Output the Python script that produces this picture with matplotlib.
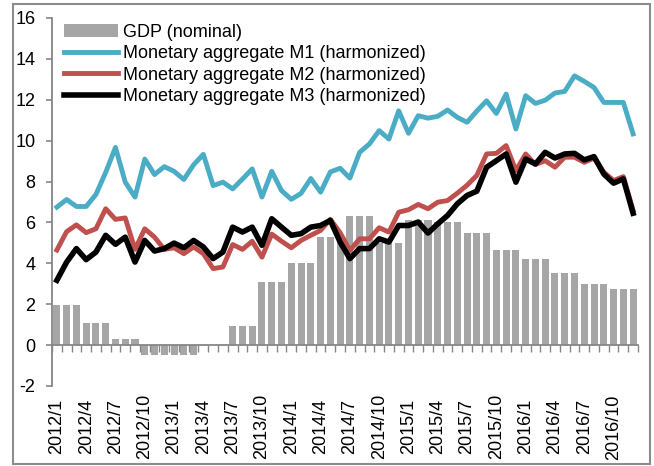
import numpy as np
import matplotlib.pyplot as plt
from matplotlib.patches import Rectangle

# miesiace 2012/1 .. 2016/12
months = []
for year in range(2012, 2017):
    for m in range(1, 13):
        months.append("{0}/{1}".format(year, m))

# PKB kwartalnie (powtorzone na 3 miesiace)
gdp_quarterly = [1.95, 1.1, 0.28, -0.5, -0.5, 0.0, 0.92, 3.1, 4.0, 5.3,
                 6.3, 5.0, 6.1, 6.0, 5.5, 4.65, 4.2, 3.55, 3.0, 2.72]

m1 = [6.75, 7.12, 6.78, 6.78, 7.37, 8.45, 9.67, 7.97, 7.24, 9.1,
      8.34, 8.73, 8.5, 8.1, 8.82, 9.33, 7.8, 7.97, 7.64, 8.12,
      8.62, 7.24, 8.5, 7.56, 7.13, 7.42, 8.15, 7.48, 8.47, 8.65,
      8.17, 9.43, 9.84, 10.49, 10.08, 11.46, 10.36, 11.22, 11.1, 11.19,
      11.5, 11.14, 10.9, 11.45, 11.95, 11.33, 12.28, 10.57, 12.2, 11.82,
      11.98, 12.33, 12.41, 13.17, 12.9, 12.6, 11.87, 11.87, 11.87, 10.33]

m2 = [4.65, 5.55, 5.88, 5.5, 5.69, 6.67, 6.15, 6.22, 4.68, 5.69,
      5.28, 4.68, 4.76, 4.47, 4.8, 4.47, 3.74, 3.82, 4.92, 4.68,
      5.08, 4.3, 5.43, 5.08, 4.76, 5.12, 5.37, 5.61, 6.15, 5.5,
      4.63, 5.2, 5.2, 5.74, 5.53, 6.5, 6.62, 6.88, 6.67, 6.99,
      7.07, 7.43, 7.82, 8.3, 9.35, 9.38, 9.76, 8.54, 9.35, 8.83,
      9.02, 8.7, 9.19, 9.19, 8.94, 9.15, 8.46, 8.05, 8.24, 6.6]

m3 = [3.17, 4.06, 4.72, 4.18, 4.55, 5.37, 4.93, 5.28, 4.06, 5.12,
      4.6, 4.72, 4.99, 4.76, 5.12, 4.8, 4.23, 4.55, 5.77, 5.53,
      5.77, 4.88, 6.18, 5.77, 5.37, 5.45, 5.77, 5.85, 6.1, 5.04,
      4.23, 4.72, 4.72, 5.2, 5.04, 5.85, 5.85, 6.02, 5.48, 5.93,
      6.34, 6.91, 7.32, 7.53, 8.7, 9.02, 9.35, 7.97, 9.1, 8.86,
      9.43, 9.15, 9.35, 9.38, 9.06, 9.22, 8.37, 7.92, 8.13, 6.45]

gdp = np.repeat(gdp_quarterly, 3)
x = np.arange(len(months))

plt.rcParams['font.family'] = ['Liberation Sans', 'DejaVu Sans']
plt.rcParams['axes.unicode_minus'] = False
fig = plt.figure(figsize=(6.54, 4.66), dpi=100)
ax = fig.add_axes([0.0795, 0.1717, 0.896, 0.7897])

b = ax.bar(x, gdp, width=0.72, color='#a6a6a6', label='GDP (nominal)', zorder=1)
l1, = ax.plot(x, m1, color='#4bacc6', lw=3.5, label='Monetary aggregate M1 (harmonized)', zorder=2)
l2, = ax.plot(x, m2, color='#c0504d', lw=3.5, label='Monetary aggregate M2 (harmonized)', zorder=3)
l3, = ax.plot(x, m3, color='black', lw=4.0, label='Monetary aggregate M3 (harmonized)', zorder=4)

ax.set_xlim(-0.5, len(months) - 0.5)
ax.set_ylim(-2, 16)
ax.set_yticks(range(-2, 17, 2))
ax.tick_params(axis='y', direction='out', length=4, width=1.2, color='#868686',
               pad=8, labelsize=13)

# os x na zerze, kreski miedzy kategoriami
ax.spines['top'].set_visible(False)
ax.spines['right'].set_visible(False)
ax.spines['bottom'].set_position(('data', 0))
ax.spines['bottom'].set_color('#868686')
ax.spines['left'].set_color('#868686')
ax.spines['bottom'].set_linewidth(1.3)
ax.spines['left'].set_linewidth(1.3)
ax.set_xticks(np.arange(-0.5, len(months), 1.0))
ax.set_xticklabels([])
ax.tick_params(axis='x', direction='out', length=5, width=1.0, color='#868686')

# etykiety co 3 miesiace pod wykresem
for i in range(0, len(months), 3):
    ax.text(i, -0.111, months[i], transform=ax.get_xaxis_transform(),
            rotation=90, ha='center', va='center', fontsize=13)

leg = ax.legend([b, l1, l2, l3], [h.get_label() for h in [b, l1, l2, l3]],
                loc='upper left', bbox_to_anchor=(0.02, 0.985), frameon=False,
                fontsize=13, handlelength=3.0, handletextpad=0.3,
                labelspacing=0.25, borderpad=0, borderaxespad=0)

# ramka wokol calego rysunku
fig.patches.append(Rectangle((13 / 654, 1 - 464 / 466), 637 / 654, 460 / 466,
                             transform=fig.transFigure, fill=False,
                             edgecolor='#8c8c8c', lw=1.5))

plt.savefig('out.png', dpi=100)
